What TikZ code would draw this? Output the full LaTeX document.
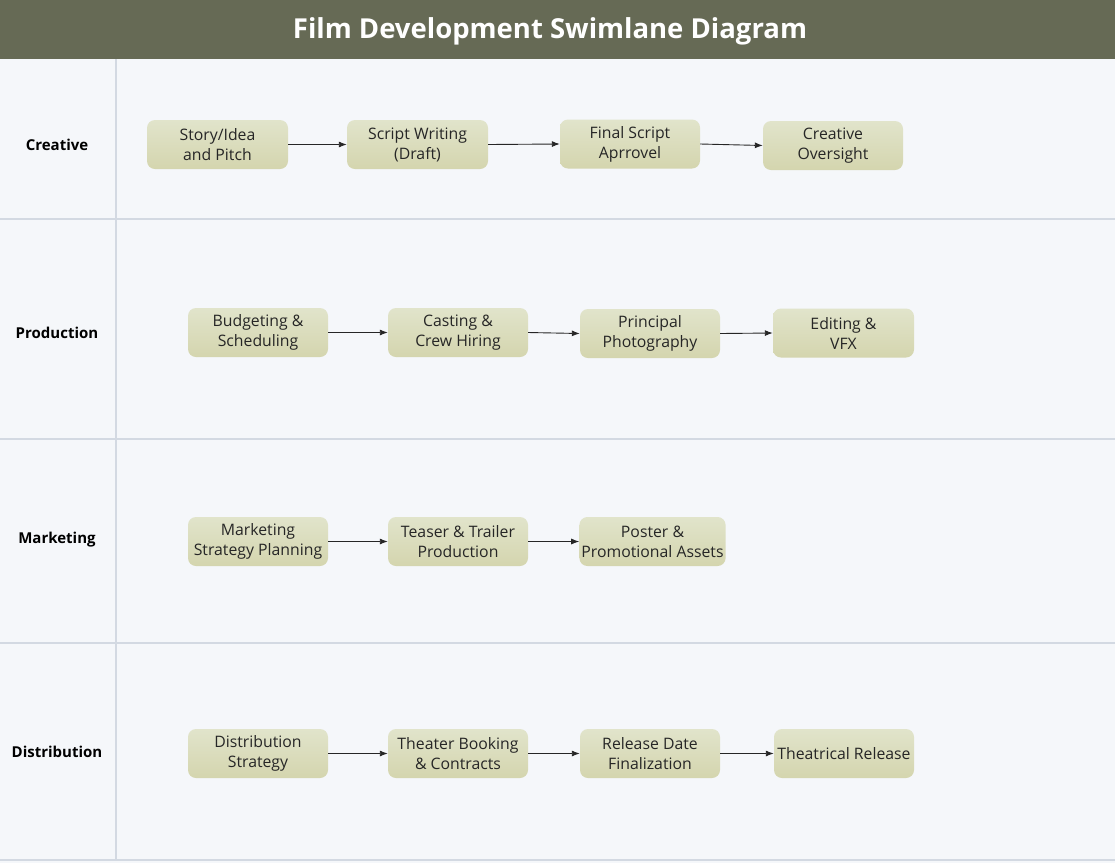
\documentclass[tikz,border=0pt]{standalone}
\usepackage{fontspec}
\setmainfont{Open Sans}
\usetikzlibrary{arrows.meta}
\definecolor{titlebg}{HTML}{666A55}
\definecolor{lanebg}{HTML}{F5F7FA}
\definecolor{laneline}{HTML}{D3D9E2}
\definecolor{boxtop}{HTML}{E1E4CB}
\definecolor{boxbot}{HTML}{D4D5AE}
\tikzset{
  px/.style={x=1pt,y=-1pt},
  stepbox/.style={rectangle, rounded corners=8pt, top color=boxtop, bottom color=boxbot, draw=none,
    minimum width=140pt, minimum height=49pt, align=center, inner sep=2pt,
    font=\fontsize{15.8}{20}\selectfont, text=black!85},
  lanelabel/.style={font=\fontsize{15}{18}\selectfont\bfseries, text=black},
  flow/.style={-{Latex[length=8pt,width=6pt]}, line width=0.9pt, black!85}
}
\begin{document}
\begin{tikzpicture}[px]
\useasboundingbox (0,0) rectangle (1115,863);
\fill[lanebg] (0,0) rectangle (1115,863);
\fill[titlebg] (0,0) rectangle (1115,59);
\node[font=\fontsize{27.5}{32}\selectfont\bfseries, text=white] (title) at (550,31) {Film Development Swimlane Diagram};
% lane lines
\draw[laneline, line width=2pt] (0,219) -- (1115,219);
\draw[laneline, line width=2pt] (0,439) -- (1115,439);
\draw[laneline, line width=2pt] (0,643) -- (1115,643);
\draw[laneline, line width=2pt] (0,860) -- (1115,860);
\draw[laneline, line width=2pt] (116,59) -- (116,860);
% lane labels
\node[lanelabel] (lc) at (57,145) {Creative};
\node[lanelabel] (lp) at (57,333) {Production};
\node[lanelabel] (lm) at (57,540) {Marketing};
\node[lanelabel] (ld) at (57,752) {Distribution};
% Creative
\node[stepbox, minimum width=141pt] (c1) at (217.5,144.5) {Story/Idea\\and Pitch};
\node[stepbox, minimum width=141pt] (c2) at (417.5,144.5) {Script Writing\\(Draft)};
\node[stepbox] (c3) at (630,144) {Final Script\\Aprrovel};
\node[stepbox] (c4) at (833,145.5) {Creative\\Oversight};
% Production
\node[stepbox] (p1) at (258,332.5) {Budgeting \&\\Scheduling};
\node[stepbox] (p2) at (458,332.5) {Casting \&\\Crew Hiring};
\node[stepbox] (p3) at (650,333.5) {Principal\\Photography};
\node[stepbox, minimum width=141pt] (p4) at (843.5,333) {Editing \&\\VFX};
% Marketing
\node[stepbox] (m1) at (258,541.5) {Marketing\\Strategy Planning};
\node[stepbox] (m2) at (458,541.5) {Teaser \& Trailer\\Production};
\node[stepbox, minimum width=145pt] (m3) at (652.5,541.5) {Poster \&\\Promotional Assets};
% Distribution
\node[stepbox] (d1) at (258,753.5) {Distribution\\Strategy};
\node[stepbox] (d2) at (458,753.5) {Theater Booking\\\& Contracts};
\node[stepbox] (d3) at (650,753.5) {Release Date\\Finalization};
\node[stepbox] (d4) at (844,753.5) {Theatrical Release};
% arrows
\draw[flow] (c1.east) -- (c2.west);
\draw[flow] (c2.east) -- (c3.west);
\draw[flow] (c3.east) -- (c4.west);
\draw[flow] (p1.east) -- (p2.west);
\draw[flow] (p2.east) -- (p3.west);
\draw[flow] (p3.east) -- (p4.west);
\draw[flow] (m1.east) -- (m2.west);
\draw[flow] (m2.east) -- (m3.west);
\draw[flow] (d1.east) -- (d2.west);
\draw[flow] (d2.east) -- (d3.west);
\draw[flow] (d3.east) -- (d4.west);
\end{tikzpicture}
\end{document}
